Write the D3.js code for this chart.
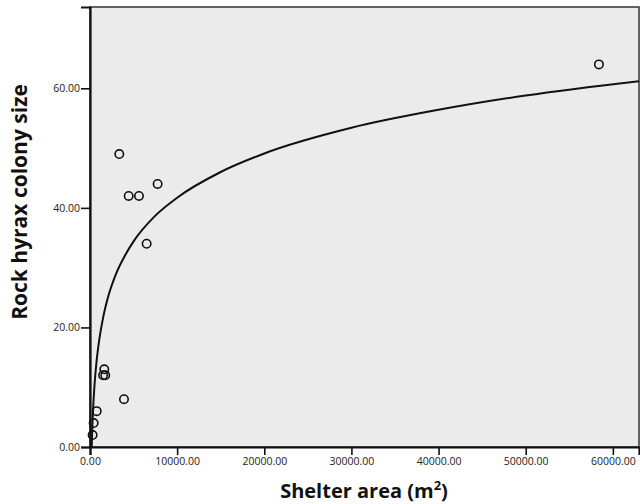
<!DOCTYPE html>
<html>
<head>
<meta charset="utf-8">
<script src="https://cdn.jsdelivr.net/npm/d3@7"></script>
<style>
  body { margin: 0; background: #fff; }
  svg { display: block; }
</style>
</head>
<body>
<svg id="chart"></svg>
<script>
// observed shelters
const shelterArea = [300, 420, 770, 1500, 1750, 1640, 3900, 3360, 4440, 5620, 7760, 6500, 58400];
const colonySize = [2, 4, 6, 12, 12, 13, 8, 49, 42, 42, 44, 34, 64];

// fitted curve
const fitArea = [195, 250, 300, 400, 500, 750, 1000, 1500, 2000, 3000, 4000, 5000, 7500, 10000, 15000, 20000, 30000, 40000, 50000, 63000];
const fitSize = [0, 2.6, 4.6, 7.6, 10.0, 14.3, 17.3, 21.6, 24.7, 29.0, 32.0, 34.4, 38.7, 41.7, 46.0, 49.1, 53.4, 56.4, 58.8, 61.2];

const xTicks = [0, 10000, 20000, 30000, 40000, 50000, 60000];
const yTicks = [0, 20, 40, 60];
const xMax = 63000;
const yMax = 73.6;

const width = 640;
const height = 504;
const margin = ({top: 7, right: 1, bottom: 57, left: 90});

const x = d3.scaleLinear().domain([0, xMax]).range([margin.left, width - margin.right]);
const y = d3.scaleLinear().domain([0, yMax]).range([height - margin.bottom, margin.top]);

const svg = d3.select('#chart')
  .attr('width', width)
  .attr('height', height);

// plot background
svg.append("rect")
  .attr("x", margin.left)
  .attr("y", margin.top)
  .attr("width", width - margin.left - margin.right)
  .attr("height", height - margin.top - margin.bottom)
  .attr("fill", "#ebebeb")
  .attr("stroke", "#333")
  .attr("stroke-width", 1.5);

const fmt = d3.format(".2f");

const xAxis = d3.axisBottom(x).tickValues(xTicks).tickFormat(fmt).tickSize(8).tickPadding(3);
const yAxis = d3.axisLeft(y).tickValues(yTicks).tickFormat(fmt).tickSize(9).tickPadding(1);

const gx = svg.append("g")
  .attr("transform", `translate(0, ${height - margin.bottom})`)
  .call(xAxis);
const gy = svg.append("g")
  .attr("transform", `translate(${margin.left}, 0)`)
  .call(yAxis);

[gx, gy].forEach(g => {
  g.select(".domain").attr("stroke", "#111").attr("stroke-width", 2.2);
  g.selectAll(".tick line").attr("stroke", "#111").attr("stroke-width", 1.6);
  g.selectAll(".tick text")
    .attr("fill", "#222")
    .style("font-family", "'Open Sans', sans-serif")
    .style("font-size", "10.5px");
});

// clip to the plot
svg.append("clipPath").attr("id", "plot-clip")
  .append("rect")
  .attr("x", margin.left)
  .attr("y", margin.top)
  .attr("width", width - margin.left - margin.right)
  .attr("height", height - margin.top - margin.bottom);

const fitData = fitArea.map((a, i) => ({area: a, size: fitSize[i]}));
const line = d3.line()
  .x(d => x(d.area))
  .y(d => y(d.size))
  .curve(d3.curveMonotoneX);

svg.append("path")
  .datum(fitData)
  .attr("clip-path", "url(#plot-clip)")
  .attr("fill", "none")
  .attr("stroke", "#111")
  .attr("stroke-width", 2)
  .attr("d", line);

const points = shelterArea.map((a, i) => ({area: a, size: colonySize[i]}));
svg.append("g")
  .selectAll("circle")
  .data(points)
  .join("circle")
  .attr("cx", d => x(d.area))
  .attr("cy", d => y(d.size))
  .attr("r", 4.2)
  .attr("fill", "none")
  .attr("stroke", "#111")
  .attr("stroke-width", 1.6);

// axis titles
const xTitle = svg.append("text")
  .attr("x", 364)
  .attr("y", 498)
  .attr("text-anchor", "middle")
  .style("font-family", "'Open Sans', sans-serif")
  .style("font-weight", "bold")
  .style("font-size", "20px")
  .attr("fill", "#111");
xTitle.append("tspan").text("Shelter area (m");
xTitle.append("tspan").text("2").attr("dy", -8).style("font-size", "13px");
xTitle.append("tspan").text(")").attr("dy", 8);

svg.append("text")
  .attr("transform", "rotate(-90)")
  .attr("x", -202)
  .attr("y", 27)
  .attr("text-anchor", "middle")
  .style("font-family", "'Open Sans', sans-serif")
  .style("font-weight", "bold")
  .style("font-size", "21px")
  .attr("fill", "#111")
  .text("Rock hyrax colony size");
</script>
</body>
</html>
